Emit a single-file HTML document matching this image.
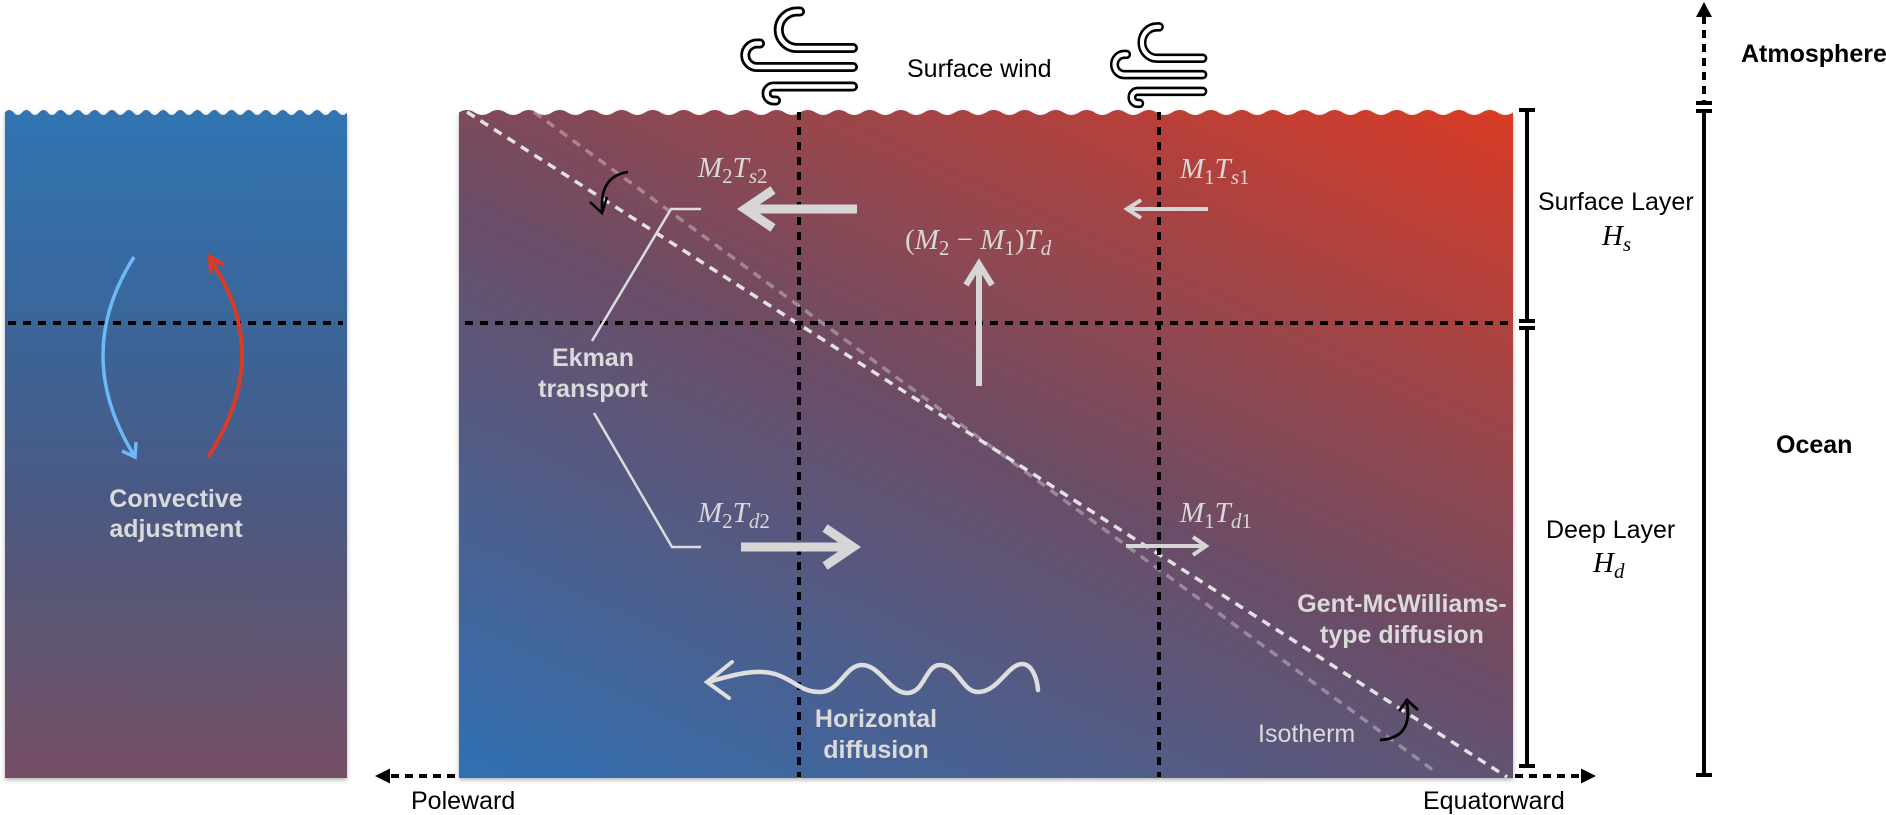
<!DOCTYPE html>
<html>
<head>
<meta charset="utf-8">
<style>
  html, body { margin: 0; padding: 0; background: #ffffff; }
  body { width: 1886px; height: 815px; overflow: hidden; }
  svg { display: block; }
  .sans { font-family: "Liberation Sans", Arial, sans-serif; font-size: 25px; }
  .bold { font-weight: bold; }
  .lt { fill: #dadada; }
  .m { font-family: "Liberation Serif", "DejaVu Serif", serif; font-style: italic; font-size: 29px; fill: #d8d8d8; }
</style>
</head>
<body>
<svg width="1886" height="815" viewBox="0 0 1886 815" xmlns="http://www.w3.org/2000/svg">
  <defs>
    <linearGradient id="gl" x1="0" y1="110" x2="0" y2="778" gradientUnits="userSpaceOnUse">
      <stop offset="0" stop-color="#3174b3"/>
      <stop offset="0.32" stop-color="#3a6699"/>
      <stop offset="0.55" stop-color="#485a86"/>
      <stop offset="0.78" stop-color="#5e5572"/>
      <stop offset="1" stop-color="#754f65"/>
    </linearGradient>
    <linearGradient id="gr" x1="764" y1="920" x2="1208" y2="-32" gradientUnits="userSpaceOnUse">
      <stop offset="0" stop-color="#2f70b3"/>
      <stop offset="0.5" stop-color="#6b4d66"/>
      <stop offset="1" stop-color="#d93b26"/>
    </linearGradient>
    <filter id="sh" x="-5%" y="-5%" width="110%" height="110%">
      <feDropShadow dx="0" dy="2" stdDeviation="2" flood-color="#000" flood-opacity="0.3"/>
    </filter>
  </defs>

  <!-- Left panel -->
  <path filter="url(#sh)" fill="url(#gl)" d="M5 112.5 q4.275 -5 8.55 0 t8.55 0 q4.275 -5 8.55 0 t8.55 0 q4.275 -5 8.55 0 t8.55 0 q4.275 -5 8.55 0 t8.55 0 q4.275 -5 8.55 0 t8.55 0 q4.275 -5 8.55 0 t8.55 0 q4.275 -5 8.55 0 t8.55 0 q4.275 -5 8.55 0 t8.55 0 q4.275 -5 8.55 0 t8.55 0 q4.275 -5 8.55 0 t8.55 0 q4.275 -5 8.55 0 t8.55 0 q4.275 -5 8.55 0 t8.55 0 q4.275 -5 8.55 0 t8.55 0 q4.275 -5 8.55 0 t8.55 0 q4.275 -5 8.55 0 t8.55 0 q4.275 -5 8.55 0 t8.55 0 q4.275 -5 8.55 0 t8.55 0 q4.275 -5 8.55 0 t8.55 0 q4.275 -5 8.55 0 t8.55 0 q4.275 -5 8.55 0 t8.55 0 L347 778 L5 778 Z"/>

  <!-- Right panel -->
  <path filter="url(#sh)" fill="url(#gr)" d="M459 112.5 q7.75 -5 15.5 0 t15.5 0 q7.75 -5 15.5 0 t15.5 0 q7.75 -5 15.5 0 t15.5 0 q7.75 -5 15.5 0 t15.5 0 q7.75 -5 15.5 0 t15.5 0 q7.75 -5 15.5 0 t15.5 0 q7.75 -5 15.5 0 t15.5 0 q7.75 -5 15.5 0 t15.5 0 q7.75 -5 15.5 0 t15.5 0 q7.75 -5 15.5 0 t15.5 0 q7.75 -5 15.5 0 t15.5 0 q7.75 -5 15.5 0 t15.5 0 q7.75 -5 15.5 0 t15.5 0 q7.75 -5 15.5 0 t15.5 0 q7.75 -5 15.5 0 t15.5 0 q7.75 -5 15.5 0 t15.5 0 q7.75 -5 15.5 0 t15.5 0 q7.75 -5 15.5 0 t15.5 0 q7.75 -5 15.5 0 t15.5 0 q7.75 -5 15.5 0 t15.5 0 q7.75 -5 15.5 0 t15.5 0 q7.75 -5 15.5 0 t15.5 0 q7.75 -5 15.5 0 t15.5 0 q7.75 -5 15.5 0 t15.5 0 q7.75 -5 15.5 0 t15.5 0 q7.75 -5 15.5 0 t15.5 0 q7.75 -5 15.5 0 t15.5 0 q7.75 -5 15.5 0 t15.5 0 q7.75 -5 15.5 0 t15.5 0 q7.75 -5 15.5 0 t15.5 0 q7.75 -5 15.5 0 t15.5 0 q7.75 -5 15.5 0 t15.5 0 q7.75 -5 15.5 0 t15.5 0 q7.75 -5 15.5 0 t15.5 0 L1513 778 L459 778 Z"/>

  <!-- Isotherm dashed lines -->
  <line x1="534" y1="112" x2="1437" y2="773" stroke="#ffffff" stroke-opacity="0.33" stroke-width="3.5" stroke-dasharray="9 7"/>
  <line x1="467" y1="112" x2="1507" y2="777" stroke="#e2e2e2" stroke-width="3.5" stroke-dasharray="9 7"/>

  <!-- Black dashed grid lines -->
  <line x1="8" y1="323" x2="343" y2="323" stroke="#000" stroke-width="4" stroke-dasharray="8 7"/>
  <line x1="465" y1="323" x2="1511" y2="323" stroke="#000" stroke-width="4" stroke-dasharray="8 7"/>
  <line x1="799" y1="112" x2="799" y2="777" stroke="#000" stroke-width="4" stroke-dasharray="8 7"/>
  <line x1="1159" y1="112" x2="1159" y2="777" stroke="#000" stroke-width="4" stroke-dasharray="8 7"/>

  <!-- Convective arrows -->
  <path d="M134 257 Q71.5 355 135 457" fill="none" stroke="#6bb9f6" stroke-width="3.5"/>
  <polyline points="122,451 135,457 136,442" fill="none" stroke="#6bb9f6" stroke-width="3.5"/>
  <path d="M208 457 Q275 355 210 259" fill="none" stroke="#d93b26" stroke-width="4"/>
  <polyline points="224,265 210,257 211,273" fill="none" stroke="#d93b26" stroke-width="4"/>

  <text class="sans bold lt" x="176" y="507" text-anchor="middle">Convective</text>
  <text class="sans bold lt" x="176" y="537" text-anchor="middle">adjustment</text>

  <!-- Wind icons -->
  <g fill="none" stroke-linecap="round" stroke-linejoin="round">
    <path d="M800 11.5 H797 A18.25 18.25 0 0 0 797 48 H853 M760 43.5 H757 A11.75 11.75 0 0 0 757 67 H853 M853 86.5 H773.5 A7 7 0 0 0 773.5 100.5 H776" stroke="#000" stroke-width="10"/>
    <path d="M800 11.5 H797 A18.25 18.25 0 0 0 797 48 H853 M760 43.5 H757 A11.75 11.75 0 0 0 757 67 H853 M853 86.5 H773.5 A7 7 0 0 0 773.5 100.5 H776" stroke="#fff" stroke-width="4.5"/>
  </g>
  <g transform="translate(1111 23) scale(0.82 0.86) translate(-741 -7)" fill="none" stroke-linecap="round" stroke-linejoin="round">
    <path d="M800 11.5 H797 A18.25 18.25 0 0 0 797 48 H853 M760 43.5 H757 A11.75 11.75 0 0 0 757 67 H853 M853 86.5 H773.5 A7 7 0 0 0 773.5 100.5 H776" stroke="#000" stroke-width="11"/>
    <path d="M800 11.5 H797 A18.25 18.25 0 0 0 797 48 H853 M760 43.5 H757 A11.75 11.75 0 0 0 757 67 H853 M853 86.5 H773.5 A7 7 0 0 0 773.5 100.5 H776" stroke="#fff" stroke-width="5"/>
  </g>

  <text class="sans" x="907" y="77" fill="#000">Surface wind</text>

  <!-- Flux arrows -->
  <g stroke="#d6d6d6" fill="none">
    <line x1="857" y1="209" x2="747" y2="209" stroke-width="9"/>
    <polyline points="773,190 745,209 773,228" stroke-width="9"/>
    <line x1="1208" y1="209" x2="1128" y2="209" stroke-width="4"/>
    <polyline points="1141,200 1127,209 1141,218" stroke-width="4"/>
    <line x1="979" y1="386" x2="979" y2="266" stroke-width="6"/>
    <polyline points="966,285 979,264 992,285" stroke-width="6"/>
    <line x1="741" y1="547" x2="851" y2="547" stroke-width="9"/>
    <polyline points="825,528 853,547 825,566" stroke-width="9"/>
    <line x1="1126" y1="546" x2="1204" y2="546" stroke-width="4"/>
    <polyline points="1193,537 1206,546 1193,555" stroke-width="4"/>
  </g>

  <!-- Ekman leader lines -->
  <polyline points="701,209 671,209 592,341" fill="none" stroke="#dcdcdc" stroke-width="2.5"/>
  <polyline points="594,413 672,547 701,547" fill="none" stroke="#dcdcdc" stroke-width="2.5"/>
  <text class="sans bold lt" x="593" y="366" text-anchor="middle">Ekman</text>
  <text class="sans bold lt" x="593" y="397" text-anchor="middle">transport</text>

  <!-- Math labels -->
  <text class="m" x="698" y="177">M<tspan font-size="21" font-style="normal" dy="6">2</tspan><tspan dy="-6">T</tspan><tspan font-size="21" dy="6">s</tspan><tspan font-size="21" font-style="normal">2</tspan></text>
  <text class="m" x="1180" y="178">M<tspan font-size="21" font-style="normal" dy="6">1</tspan><tspan dy="-6">T</tspan><tspan font-size="21" dy="6">s</tspan><tspan font-size="21" font-style="normal">1</tspan></text>
  <text class="m" x="905" y="249"><tspan font-style="normal">(</tspan>M<tspan font-size="21" font-style="normal" dy="6">2</tspan><tspan dy="-6" font-style="normal"> − </tspan>M<tspan font-size="21" font-style="normal" dy="6">1</tspan><tspan dy="-6" font-style="normal">)</tspan>T<tspan font-size="21" dy="6">d</tspan></text>
  <text class="m" x="698" y="522">M<tspan font-size="21" font-style="normal" dy="6">2</tspan><tspan dy="-6">T</tspan><tspan font-size="21" dy="6">d</tspan><tspan font-size="21" font-style="normal">2</tspan></text>
  <text class="m" x="1180" y="522">M<tspan font-size="21" font-style="normal" dy="6">1</tspan><tspan dy="-6">T</tspan><tspan font-size="21" dy="6">d</tspan><tspan font-size="21" font-style="normal">1</tspan></text>

  <!-- Curved black arrows (GM) -->
  <path d="M628 172 Q600 176 602 210" fill="none" stroke="#000" stroke-width="2.5"/>
  <polyline points="590,202 602,213 607,197" fill="none" stroke="#000" stroke-width="2.5"/>
  <path d="M1380 740 Q1413 738 1407 703" fill="none" stroke="#000" stroke-width="2.8"/>
  <polyline points="1399,711 1407,700 1418,710" fill="none" stroke="#000" stroke-width="2.8"/>

  <!-- Horizontal diffusion squiggle -->
  <path d="M708 682 C730 676 755 668 775 674 C795 680 800 692 820 692 C840 692 845 665 862 665 C880 665 890 693 907 693 C925 693 925 665 940 665 C958 665 962 692 978 692 C998 692 1008 664 1022 664 C1032 664 1037 678 1038 690" fill="none" stroke="#dedede" stroke-width="4.5" stroke-linecap="round"/>
  <polyline points="732,662 707,682 729,698" fill="none" stroke="#dedede" stroke-width="4" stroke-linecap="round"/>
  <text class="sans bold lt" x="876" y="727" text-anchor="middle">Horizontal</text>
  <text class="sans bold lt" x="876" y="758" text-anchor="middle">diffusion</text>

  <text class="sans bold lt" x="1402" y="612" text-anchor="middle">Gent-McWilliams-</text>
  <text class="sans bold lt" x="1402" y="643" text-anchor="middle">type diffusion</text>
  <text class="sans lt" x="1258" y="742">Isotherm</text>

  <!-- Layer bracket -->
  <g stroke="#000" stroke-width="4" fill="none">
    <line x1="1527" y1="110" x2="1527" y2="321"/>
    <line x1="1527" y1="328" x2="1527" y2="766"/>
    <line x1="1519" y1="110" x2="1535" y2="110"/>
    <line x1="1519" y1="321" x2="1535" y2="321"/>
    <line x1="1519" y1="328" x2="1535" y2="328"/>
    <line x1="1519" y1="766" x2="1535" y2="766"/>
  </g>
  <text class="sans" x="1538" y="210" fill="#000">Surface Layer</text>
  <text class="m" x="1602" y="245" style="fill:#000">H<tspan font-size="21" dy="6">s</tspan></text>
  <text class="sans" x="1546" y="538" fill="#000">Deep Layer</text>
  <text class="m" x="1593" y="572" style="fill:#000">H<tspan font-size="21" dy="6">d</tspan></text>

  <!-- Atmosphere / Ocean axis -->
  <g stroke="#000" stroke-width="4" fill="none">
    <line x1="1704" y1="16" x2="1704" y2="101" stroke-dasharray="8 6"/>
    <line x1="1696" y1="103" x2="1712" y2="103"/>
    <line x1="1696" y1="111" x2="1712" y2="111"/>
    <line x1="1704" y1="111" x2="1704" y2="775"/>
    <line x1="1696" y1="775" x2="1712" y2="775"/>
  </g>
  <polygon points="1704,2 1696,17 1712,17" fill="#000"/>
  <text class="sans bold" x="1741" y="62" fill="#000">Atmosphere</text>
  <text class="sans bold" x="1776" y="453" fill="#000">Ocean</text>

  <!-- Poleward / Equatorward -->
  <line x1="455" y1="776" x2="388" y2="776" stroke="#000" stroke-width="4" stroke-dasharray="8 6"/>
  <polygon points="375,776 390,768.5 390,783.5" fill="#000"/>
  <text class="sans" x="411" y="809" fill="#000">Poleward</text>

  <line x1="1515" y1="776" x2="1582" y2="776" stroke="#000" stroke-width="4" stroke-dasharray="8 6"/>
  <polygon points="1596,776 1581,768.5 1581,783.5" fill="#000"/>
  <text class="sans" x="1423" y="809" fill="#000">Equatorward</text>
</svg>
</body>
</html>
